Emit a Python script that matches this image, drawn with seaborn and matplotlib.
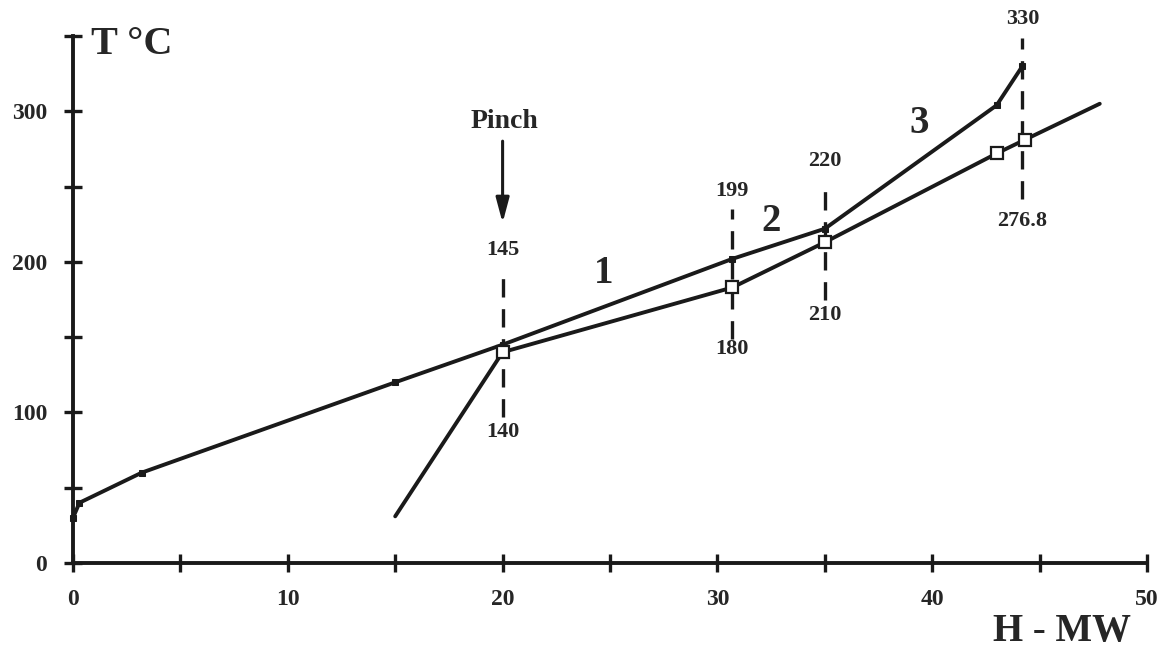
import matplotlib
matplotlib.use("Agg")
import matplotlib.pyplot as plt
import seaborn as sns
import pandas as pd

# Hot composite curve (upper)
hot_h = [0.0, 0.3, 3.2, 15.0, 20.0, 30.7, 35.0, 43.0, 44.2]
hot_t = [30, 40, 60, 120, 145, 202, 222, 304, 330]
# Cold composite curve (lower)
cold_h = [15.0, 20.0, 30.7, 35.0, 43.0, 44.3, 47.8]
cold_t = [31, 140, 183, 213, 272, 281, 305]

# Annotated interval boundaries
bound_h = [20.0, 30.7, 35.0, 44.2]
upper_labels = ["145", "199", "220", "330"]
lower_labels = ["140", "180", "210", "276.8"]
dash_lo = [97, 149, 175, 242]
dash_hi = [194, 235, 252, 349]
upper_pos = [208, 247, 267, 361]
lower_pos = [87, 142, 165, 227]

interval_names = ["1", "2", "3"]
interval_h = [24.7, 32.5, 39.4]
interval_t = [192, 227, 292]

x_ticks = [0, 10, 20, 30, 40, 50]
y_ticks = [0, 100, 200, 300]

sns.set_style("ticks")
plt.rcParams['font.family'] = ['Liberation Serif', 'DejaVu Serif']
plt.rcParams['font.weight'] = 'bold'

fig = plt.figure(figsize=(11.67, 6.5), dpi=100)
W, H = 1167, 650
ax = fig.add_axes([73 / W, (650 - 563) / H, (1147 - 73) / W, (563 - 36) / H])

hot = pd.DataFrame({"H": hot_h, "T": hot_t})
cold = pd.DataFrame({"H": cold_h, "T": cold_t})

sns.lineplot(data=hot, x="H", y="T", sort=False, ax=ax, color="#1a1a1a",
             lw=2.8, marker="s", markersize=5, markerfacecolor="#1a1a1a",
             markeredgecolor="#1a1a1a", clip_on=False, zorder=3)
sns.lineplot(data=cold, x="H", y="T", sort=False, ax=ax, color="#1a1a1a",
             lw=2.8, marker="s", markersize=9, markerfacecolor="white",
             markeredgecolor="#1a1a1a", markeredgewidth=1.6,
             markevery=list(range(1, len(cold_h) - 1)), clip_on=False, zorder=3)

for xh, lo, hi, ul, ll, up, lp in zip(bound_h, dash_lo, dash_hi, upper_labels,
                                      lower_labels, upper_pos, lower_pos):
    ax.plot([xh, xh], [lo, hi], color="#1a1a1a", lw=2.4,
            linestyle=(0, (5.5, 3.5)), zorder=2, clip_on=False)
    ax.text(xh, up, ul, ha="center", va="center", fontsize=16,
            fontweight="bold", clip_on=False)
    ax.text(xh, lp, ll, ha="center", va="center", fontsize=16,
            fontweight="bold", clip_on=False)

for n, xh, yt in zip(interval_names, interval_h, interval_t):
    ax.text(xh, yt, n, ha="center", va="center", fontsize=28, fontweight="bold")

# Pinch arrow
ax.annotate("", xy=(20.0, 224), xytext=(20.0, 282),
            arrowprops=dict(arrowstyle="-|>,head_length=1.5,head_width=0.4",
                            color="#1a1a1a", lw=2.2))
ax.text(20.1, 293, "Pinch", ha="center", va="center", fontsize=20,
        fontweight="bold")

ax.set_xlim(0, 50)
ax.set_ylim(0, 350)
ax.set_xticks(x_ticks)
ax.set_xticks([5, 15, 25, 35, 45], minor=True)
ax.set_yticks(y_ticks)
ax.set_yticks([50, 150, 250, 350], minor=True)
ax.set_xticklabels([str(v) for v in x_ticks], fontsize=17, fontweight="bold")
ax.set_yticklabels([str(v) for v in y_ticks], fontsize=17, fontweight="bold")
ax.tick_params(axis="both", which="both", direction="inout", length=13,
               width=2.4, color="#1a1a1a", bottom=True, left=True)
ax.tick_params(axis="x", which="major", pad=12)
ax.tick_params(axis="y", which="major", pad=12)

for s in ["top", "right"]:
    ax.spines[s].set_visible(False)
for s in ["left", "bottom"]:
    ax.spines[s].set_linewidth(2.8)
    ax.spines[s].set_color("#1a1a1a")

ax.set_xlabel("")
ax.set_ylabel("")
fig.text(91 / W, 1 - 54 / H, "T °C", ha="left", va="baseline", fontsize=29,
         fontweight="bold")
fig.text(1062 / W, 1 - 641 / H, "H - MW", ha="center", va="baseline",
         fontsize=28, fontweight="bold")

fig.savefig("out.png", dpi=100)
